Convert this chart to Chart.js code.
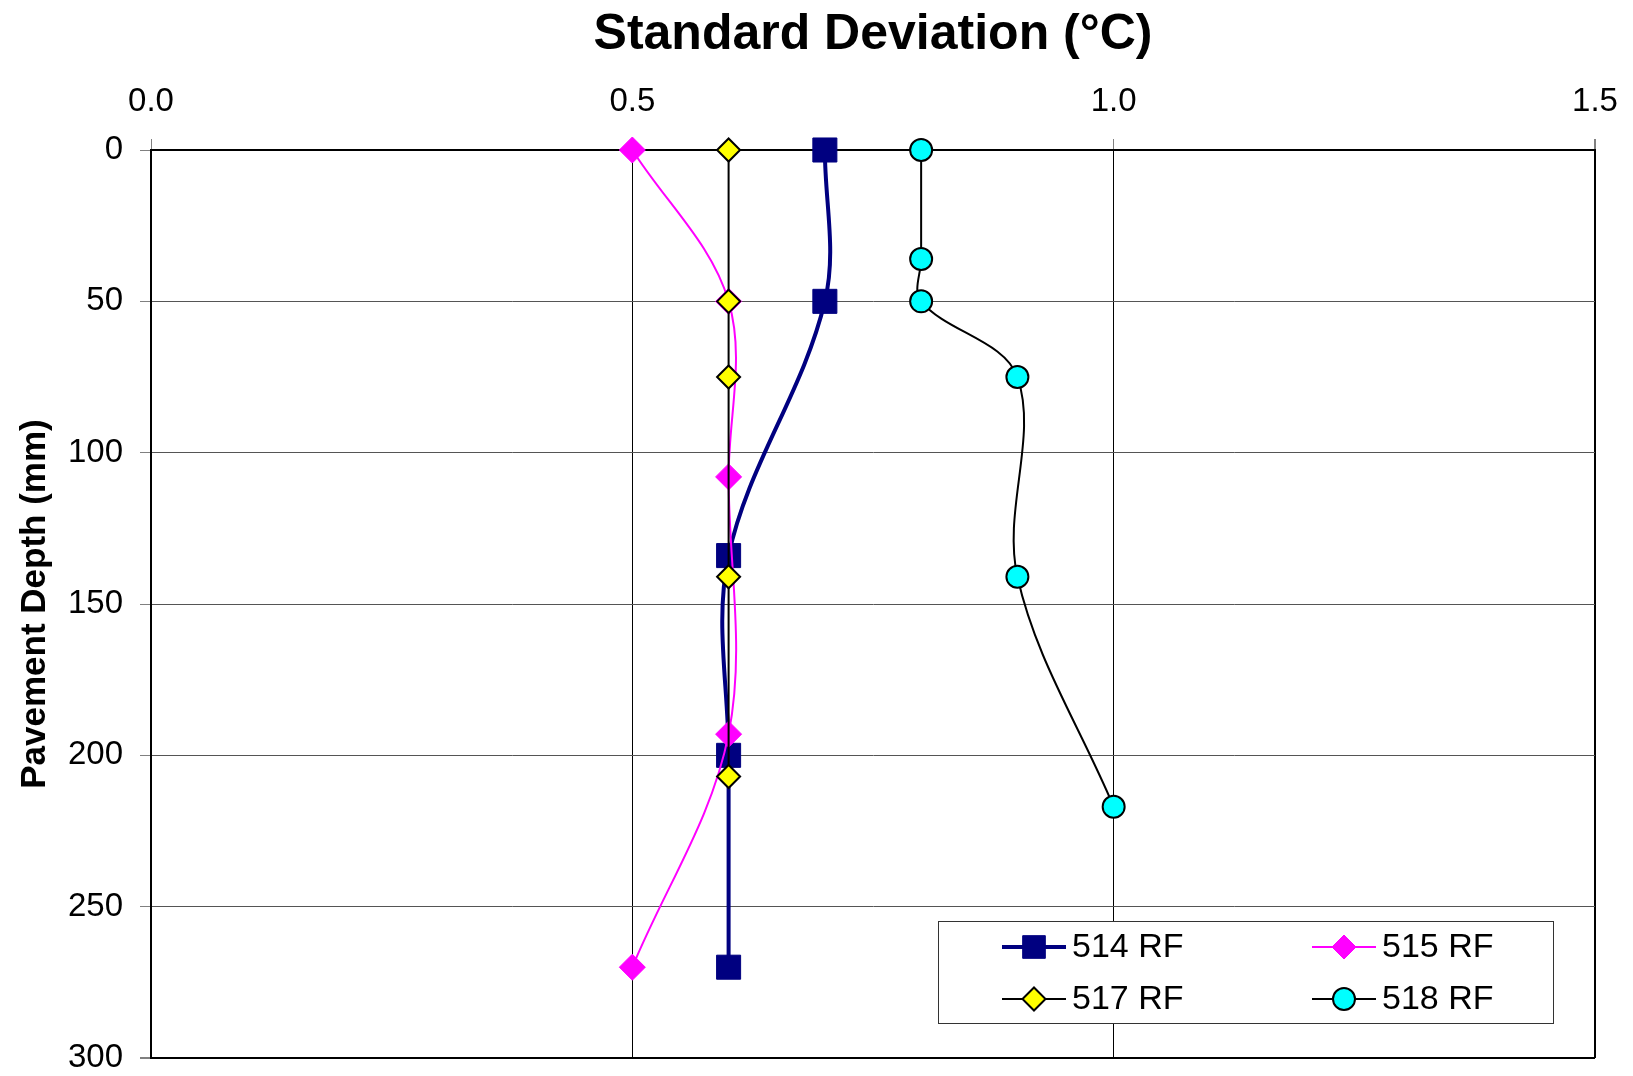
<!DOCTYPE html>
<html>
<head>
<meta charset="utf-8">
<script src="https://cdn.jsdelivr.net/npm/chart.js@4.4.1/dist/chart.umd.min.js"></script>
<style>
  html, body { margin: 0; padding: 0; background: #fff; }
  canvas { display: block; }
</style>
</head>
<body>
<canvas id="sdChart" width="1633" height="1076"></canvas>
<script>
// ---- data: standard deviation (°C) vs pavement depth (mm) ----
const depth514 = [0, 50, 134, 200, 270];
const sd514    = [0.7, 0.7, 0.6, 0.6, 0.6];

const depth515 = [0, 50, 108, 193, 270];
const sd515    = [0.5, 0.6, 0.6, 0.6, 0.5];

const depth517 = [0, 50, 75, 141, 207];
const sd517    = [0.6, 0.6, 0.6, 0.6, 0.6];

const depth518 = [0, 36, 50, 75, 141, 217];
const sd518    = [0.8, 0.8, 0.8, 0.9, 0.9, 1.0];

const seriesLabels = ['514 RF', '515 RF', '517 RF', '518 RF'];
const sdTicks = [0, 0.5, 1.0, 1.5];
const depthTicks = [0, 50, 100, 150, 200, 250, 300];

const FONT = '"Liberation Sans", Arial, Helvetica, sans-serif';

function toPoints(xs, ys) {
    return xs.map((x, i) => ({ x: x, y: ys[i] }));
}

// legend box sitting inside the plot, bottom right
const boxLegend = {
    id: 'boxLegend',
    afterDraw(chart) {
        const ctx = chart.ctx;
        const bx = 938, by = 921, bw = 615, bh = 102;
        ctx.save();
        ctx.fillStyle = '#fff';
        ctx.fillRect(bx, by, bw, bh);
        ctx.strokeStyle = '#333';
        ctx.lineWidth = 1;
        ctx.strokeRect(bx + 0.5, by + 0.5, bw, bh);

        const cols = [1002, 1312];
        const rows = [947, 999];
        chart.data.datasets.forEach((ds, i) => {
            const lx = cols[i % 2];
            const ly = rows[Math.floor(i / 2)];
            ctx.strokeStyle = ds.borderColor;
            ctx.lineWidth = ds.borderWidth;
            ctx.beginPath();
            ctx.moveTo(lx, ly);
            ctx.lineTo(lx + 64, ly);
            ctx.stroke();

            ctx.fillStyle = ds.pointBackgroundColor;
            ctx.strokeStyle = ds.pointBorderColor;
            ctx.lineWidth = ds.pointBorderWidth;
            Chart.helpers.drawPoint(ctx, {
                pointStyle: ds.pointStyle,
                radius: ds.legendRadius,
                rotation: 0,
                borderWidth: ds.pointBorderWidth
            }, lx + 32, ly);

            ctx.fillStyle = '#000';
            ctx.font = '34px ' + FONT;
            ctx.textAlign = 'left';
            ctx.textBaseline = 'middle';
            ctx.fillText(ds.label, lx + 70, ly + 1);
        });
        ctx.restore();
    }
};

new Chart(document.getElementById('sdChart'), {
    type: 'scatter',
    data: {
        datasets: [
            {
                label: seriesLabels[0],
                data: toPoints(sd514, depth514),
                showLine: true,
                tension: 0.35,
                clip: false,
                borderColor: '#000080',
                borderWidth: 4,
                pointStyle: 'rect',
                pointRadius: 17,
                pointBackgroundColor: '#000080',
                pointBorderColor: '#000080',
                pointBorderWidth: 1,
                legendRadius: 16,
                order: 4
            },
            {
                label: seriesLabels[1],
                data: toPoints(sd515, depth515),
                showLine: true,
                tension: 0.35,
                clip: false,
                borderColor: '#FF00FF',
                borderWidth: 2,
                pointStyle: 'rectRot',
                pointRadius: 13,
                pointBackgroundColor: '#FF00FF',
                pointBorderColor: '#FF00FF',
                pointBorderWidth: 1,
                legendRadius: 12,
                order: 3
            },
            {
                label: seriesLabels[2],
                data: toPoints(sd517, depth517),
                showLine: true,
                tension: 0.35,
                clip: false,
                borderColor: '#000000',
                borderWidth: 2,
                pointStyle: 'rectRot',
                pointRadius: 11.5,
                pointBackgroundColor: '#FFFF00',
                pointBorderColor: '#000000',
                pointBorderWidth: 2,
                legendRadius: 11.5,
                order: 2
            },
            {
                label: seriesLabels[3],
                data: toPoints(sd518, depth518),
                showLine: true,
                tension: 0.35,
                clip: false,
                borderColor: '#000000',
                borderWidth: 2,
                pointStyle: 'circle',
                pointRadius: 11,
                pointBackgroundColor: '#00FFFF',
                pointBorderColor: '#000000',
                pointBorderWidth: 2,
                legendRadius: 11,
                order: 1
            }
        ]
    },
    options: {
        responsive: false,
        animation: false,
        devicePixelRatio: 1,
        layout: { padding: { top: 0, left: 0, right: 38, bottom: 15 } },
        plugins: {
            legend: { display: false },
            tooltip: { enabled: false },
            title: { display: false }
        },
        scales: {
            x: {
                type: 'linear',
                position: 'top',
                min: 0,
                max: 1.5,
                afterBuildTicks: (scale) => { scale.ticks = sdTicks.map(v => ({ value: v })); },
                afterFit: (scale) => {
                    scale.height = 150;
                    scale.paddingLeft = 0;
                    scale.paddingRight = 0;
                },
                ticks: {
                    color: '#000',
                    font: { family: FONT, size: 33 },
                    padding: 17,
                    maxRotation: 0,
                    callback: (v) => Number(v).toFixed(1)
                },
                grid: {
                    color: '#000',
                    lineWidth: (c) => (c.tick && c.tick.value === 1.5 ? 2 : 1),
                    tickLength: 11,
                    tickColor: '#808080'
                },
                border: { display: true, color: '#000', width: 2 },
                title: {
                    display: true,
                    text: 'Standard Deviation (°C)',
                    color: '#000',
                    font: { family: FONT, size: 50, weight: 'bold' },
                    padding: { top: 5, bottom: 0 }
                }
            },
            y: {
                type: 'linear',
                position: 'left',
                reverse: true,
                min: 0,
                max: 300,
                afterBuildTicks: (scale) => { scale.ticks = depthTicks.map(v => ({ value: v })); },
                afterFit: (scale) => {
                    scale.width = 151;
                    scale.paddingTop = 0;
                    scale.paddingBottom = 0;
                },
                ticks: {
                    color: '#000',
                    font: { family: FONT, size: 33, lineHeight: 1 },
                    padding: 17
                },
                grid: {
                    color: (c) => (c.tick && c.tick.value === 300 ? '#000' : '#555'),
                    lineWidth: (c) => (c.tick && c.tick.value === 300 ? 2 : 1),
                    tickLength: 11,
                    tickColor: '#808080'
                },
                border: { display: true, color: '#000', width: 2 },
                title: {
                    display: true,
                    text: 'Pavement Depth (mm)',
                    color: '#000',
                    font: { family: FONT, size: 35, weight: 'bold' },
                    padding: { top: 14, bottom: 0 }
                }
            }
        }
    },
    plugins: [boxLegend]
});
</script>
</body>
</html>
